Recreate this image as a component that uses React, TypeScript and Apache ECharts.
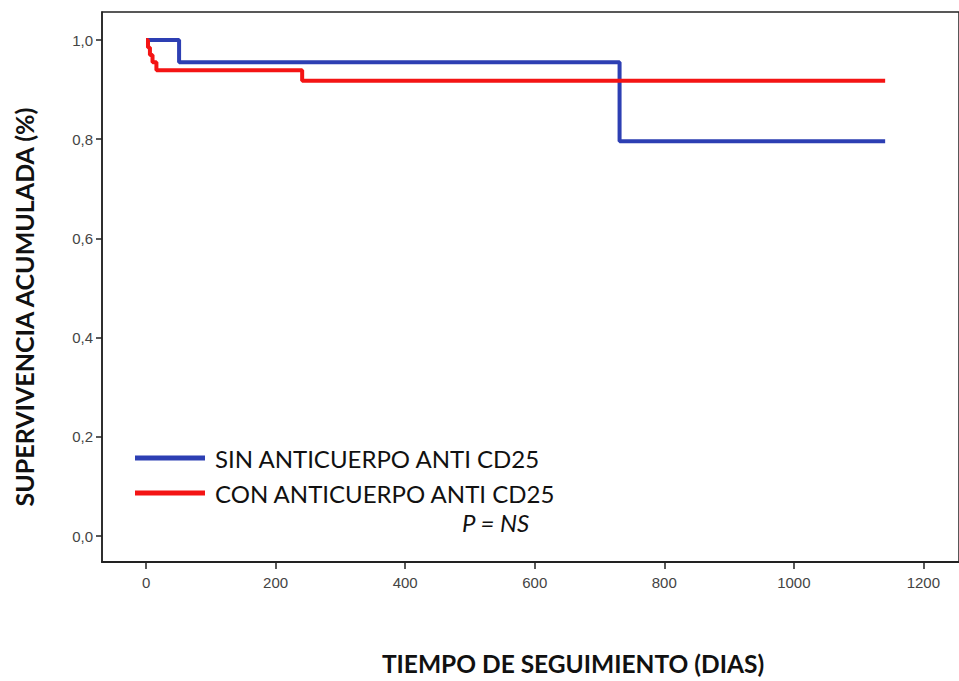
import React, { useEffect, useRef } from "react";
import * as echarts from "echarts";

const xTicks = [0, 200, 400, 600, 800, 1000, 1200];
const yTicks = [0, 0.2, 0.4, 0.6, 0.8, 1.0];

const seriesNames = ["SIN ANTICUERPO ANTI CD25", "CON ANTICUERPO ANTI CD25"];
// Kaplan-Meier step points [day, survival]
const sinDays = [0, 51, 731, 1141];
const sinSurv = [1.0, 0.955, 0.796, 0.796];
const conDays = [0, 3, 6, 10, 16, 241, 1141];
const conSurv = [1.0, 0.985, 0.97, 0.955, 0.939, 0.918, 0.918];

const colors = ["#2d3fb3", "#f41414"];

export default function App() {
  const ref = useRef<HTMLDivElement>(null);
  useEffect(() => {
    if (!ref.current) return;
    const chart = echarts.init(ref.current, undefined, { renderer: "svg" });
    const pair = (xs: number[], ys: number[]) => xs.map((x, i) => [x, ys[i]]);
    const tickFont = { fontFamily: "Liberation Sans", fontSize: 15, color: "#444" };
    chart.setOption({
      animation: false,
      backgroundColor: "#fff",
      grid: {
        left: 102,
        top: 12,
        right: 0,
        bottom: 119,
        show: true,
        borderColor: "#222",
        borderWidth: 1.5,
        containLabel: false,
        outerBoundsMode: "none",
      },
      legend: {
        orient: "vertical",
        left: 135,
        top: 446,
        padding: 0,
        itemWidth: 70,
        itemHeight: 5,
        itemGap: 11,
        icon: "rect",
        data: seriesNames,
        textStyle: { fontFamily: "Lato", fontSize: 24, lineHeight: 24, color: "#111", padding: [0, 0, 0, 5] },
      },
      xAxis: {
        type: "value",
        min: -68,
        max: 1255,
        axisLine: { show: true, onZero: false, lineStyle: { color: "#222", width: 2 } },
        axisTick: { show: true, customValues: xTicks, length: 7, lineStyle: { color: "#222", width: 1.5 } },
        axisLabel: { customValues: xTicks, margin: 13, formatter: (v: number) => String(v), ...tickFont },
        splitLine: { show: false },
      },
      yAxis: {
        type: "value",
        min: -0.0524,
        max: 1.0565,
        axisLine: { show: true, onZero: false, lineStyle: { color: "#222", width: 1.5 } },
        axisTick: { show: true, customValues: yTicks, length: 6, lineStyle: { color: "#222", width: 1.5 } },
        axisLabel: {
          customValues: yTicks,
          margin: 9,
          formatter: (v: number) => v.toFixed(1).replace(".", ","),
          ...tickFont,
        },
        splitLine: { show: false },
      },
      series: [
        {
          name: seriesNames[0],
          type: "line",
          step: "end",
          showSymbol: false,
          data: pair(sinDays, sinSurv),
          itemStyle: { color: colors[0] },
          lineStyle: { color: colors[0], width: 4 },
          z: 3,
        },
        {
          name: seriesNames[1],
          type: "line",
          step: "end",
          showSymbol: false,
          data: pair(conDays, conSurv),
          itemStyle: { color: colors[1] },
          lineStyle: { color: colors[1], width: 4 },
          z: 4,
        },
      ],
      graphic: [
        {
          type: "text",
          x: 24,
          y: 307,
          rotation: Math.PI / 2,
          style: {
            text: "SUPERVIVENCIA ACUMULADA (%)",
            fontFamily: "Lato",
            fontWeight: "bold",
            fontSize: 25,
            fill: "#111",
            align: "center",
            verticalAlign: "middle",
          },
        },
        {
          type: "text",
          x: 573,
          y: 663,
          style: {
            text: "TIEMPO DE SEGUIMIENTO (DIAS)",
            fontFamily: "Lato",
            fontWeight: "bold",
            fontSize: 24.5,
            fill: "#111",
            align: "center",
            verticalAlign: "middle",
          },
        },
        {
          type: "text",
          left: 462,
          top: 510,
          style: {
            text: "P = NS",
            fontFamily: "Lato",
            fontStyle: "italic",
            fontSize: 24,
            fill: "#111",
          },
        },
      ],
    });
    return () => chart.dispose();
  }, []);
  return <div ref={ref} style={{ width: 959, height: 681, position: "absolute", left: 0, top: 0 }} />;
}
